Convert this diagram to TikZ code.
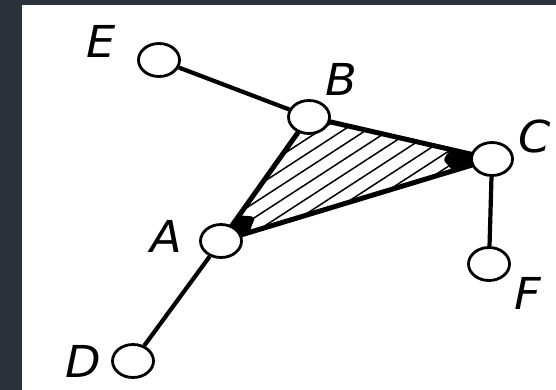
\documentclass[tikz,border=0pt]{standalone}
\usepackage{fontspec}
\setmainfont{DejaVu Sans}
\usetikzlibrary{shapes.geometric,calc}
\definecolor{framebg}{RGB}{43,50,59}
\pgfdeclarelayer{bg}
\pgfdeclarelayer{edgelayer}
\pgfsetlayers{bg,edgelayer,main}
\begin{document}
\begin{tikzpicture}[x=1pt,y=-1pt,
  vtx/.style={ellipse,draw,fill=white,line width=2.8pt,minimum width=41pt,minimum height=33pt,inner sep=0pt},
  edge/.style={line width=4.2pt},
  tri/.style={line width=5pt,line cap=round,line join=round},
  hatch/.style={line width=1.5pt},
  lbl/.style={font=\fontsize{44}{44}\selectfont\itshape,inner sep=0pt,xscale=1.05,anchor=base,text depth=0pt}]
\begin{pgfonlayer}{bg}
  \fill[framebg] (0,0) rectangle (556,390);
  \fill[white] (22,5) rectangle (556,390);
\end{pgfonlayer}
\useasboundingbox (0,0) rectangle (556,390);
% vertices
\node[vtx] (E) at (159,60) {};
\node[vtx] (B) at (309,117) {};
\node[vtx] (C) at (492,159) {};
\node[vtx] (A) at (221,241) {};
\node[vtx] (F) at (489,264) {};
\node[vtx] (D) at (133,361) {};
% labels
\node[lbl] (lE) at (101,58) {E};
\node[lbl] (lB) at (341,96) {B};
\node[lbl] (lC) at (535,153) {C};
\node[lbl] (lA) at (166,252) {A};
\node[lbl] (lF) at (528,309) {F};
\node[lbl] (lD) at (83,377) {D};
\begin{pgfonlayer}{edgelayer}
  % hatching of the face
  \begin{scope}
    \clip (A.center) -- (B.center) -- (C.center) -- cycle;
    \foreach \p in {271,283.5,...,400}
      \draw[hatch] ({0.545*\p-0.839*300},{0.839*\p+0.545*300}) -- ({0.545*\p+0.839*300},{0.839*\p-0.545*300});
  \end{scope}
  % solid corners
  \fill (C.center) -- ($(C)!42pt!(B)$) .. controls ($(C)!26pt!(B)!0.12!(A)$) and ($(C)!26pt!(A)!0.12!(B)$) .. ($(C)!42pt!(A)$) -- cycle;
  \fill (A.center) -- ($(A)!31pt!(B)$) .. controls ($(A)!22pt!(B)!0.12!(C)$) and ($(A)!22pt!(C)!0.12!(B)$) .. ($(A)!31pt!(C)$) -- cycle;
  % triangle edges
  \draw[tri] (A) -- (B);
  \draw[tri] (B) -- (C);
  \draw[tri] (A) -- (C);
  % other edges
  \draw[edge] (E) -- (B);
  \draw[edge] (C) -- (F);
  \draw[edge] (A) -- (D);
\end{pgfonlayer}
\end{tikzpicture}
\end{document}
